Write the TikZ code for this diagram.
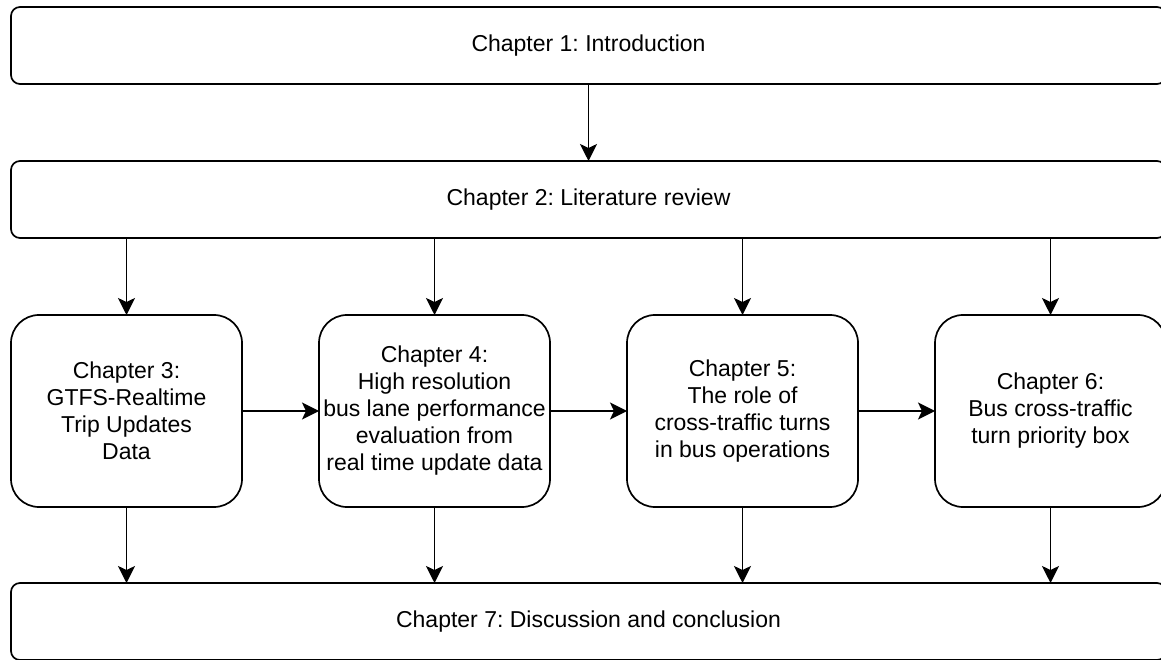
\documentclass[tikz,border=0pt]{standalone}
\usepackage{fontspec}
\setmainfont{Liberation Sans}
\usetikzlibrary{positioning,arrows.meta}
\frenchspacing

\begin{document}
\begin{tikzpicture}[
  x=1pt,y=1pt,
  font=\fontsize{23}{27}\selectfont,
  wide/.style={draw,line width=1.7pt,rounded corners=9pt,minimum width=1155pt,minimum height=77pt,inner sep=0pt,outer sep=0pt},
  chap/.style={draw,line width=1.7pt,rounded corners=28pt,minimum width=231pt,minimum height=192pt,inner sep=0pt,outer sep=0pt,align=center},
  link/.style={line width=1.7pt,-{Stealth[length=17pt,width=17pt,inset=4pt]}}]
\useasboundingbox (0,0) rectangle (1161,659);
\node[wide] (intro) at (588.5,613.5) {Chapter 1: Introduction};
\node[wide,below=77pt of intro] (lit) {Chapter 2: Literature review};
\node[chap,below right=77pt and 0pt of lit.south west] (ch3) {Chapter 3:\\GTFS-Realtime\\Trip Updates\\Data};
\node[chap,right=77pt of ch3] (ch4) {Chapter 4:\\High resolution\\bus lane performance\\evaluation from\\real time update data};
\node[chap,right=77pt of ch4] (ch5) {Chapter 5:\\The role of\\cross-traffic turns\\in bus operations};
\node[chap,right=77pt of ch5] (ch6) {Chapter 6:\\Bus cross-traffic\\turn priority box};
\node[wide,below right=76pt and 0pt of ch3.south west] (disc) {Chapter 7: Discussion and conclusion};
\draw[link] (intro)--(lit);
\foreach \c in {ch3,ch4,ch5,ch6}{
  \draw[link] (lit.south -| \c)--(\c);
  \draw[link] (\c)--(\c |- disc.north);
}
\draw[link] (ch3)--(ch4);
\draw[link] (ch4)--(ch5);
\draw[link] (ch5)--(ch6);
\end{tikzpicture}
\end{document}
